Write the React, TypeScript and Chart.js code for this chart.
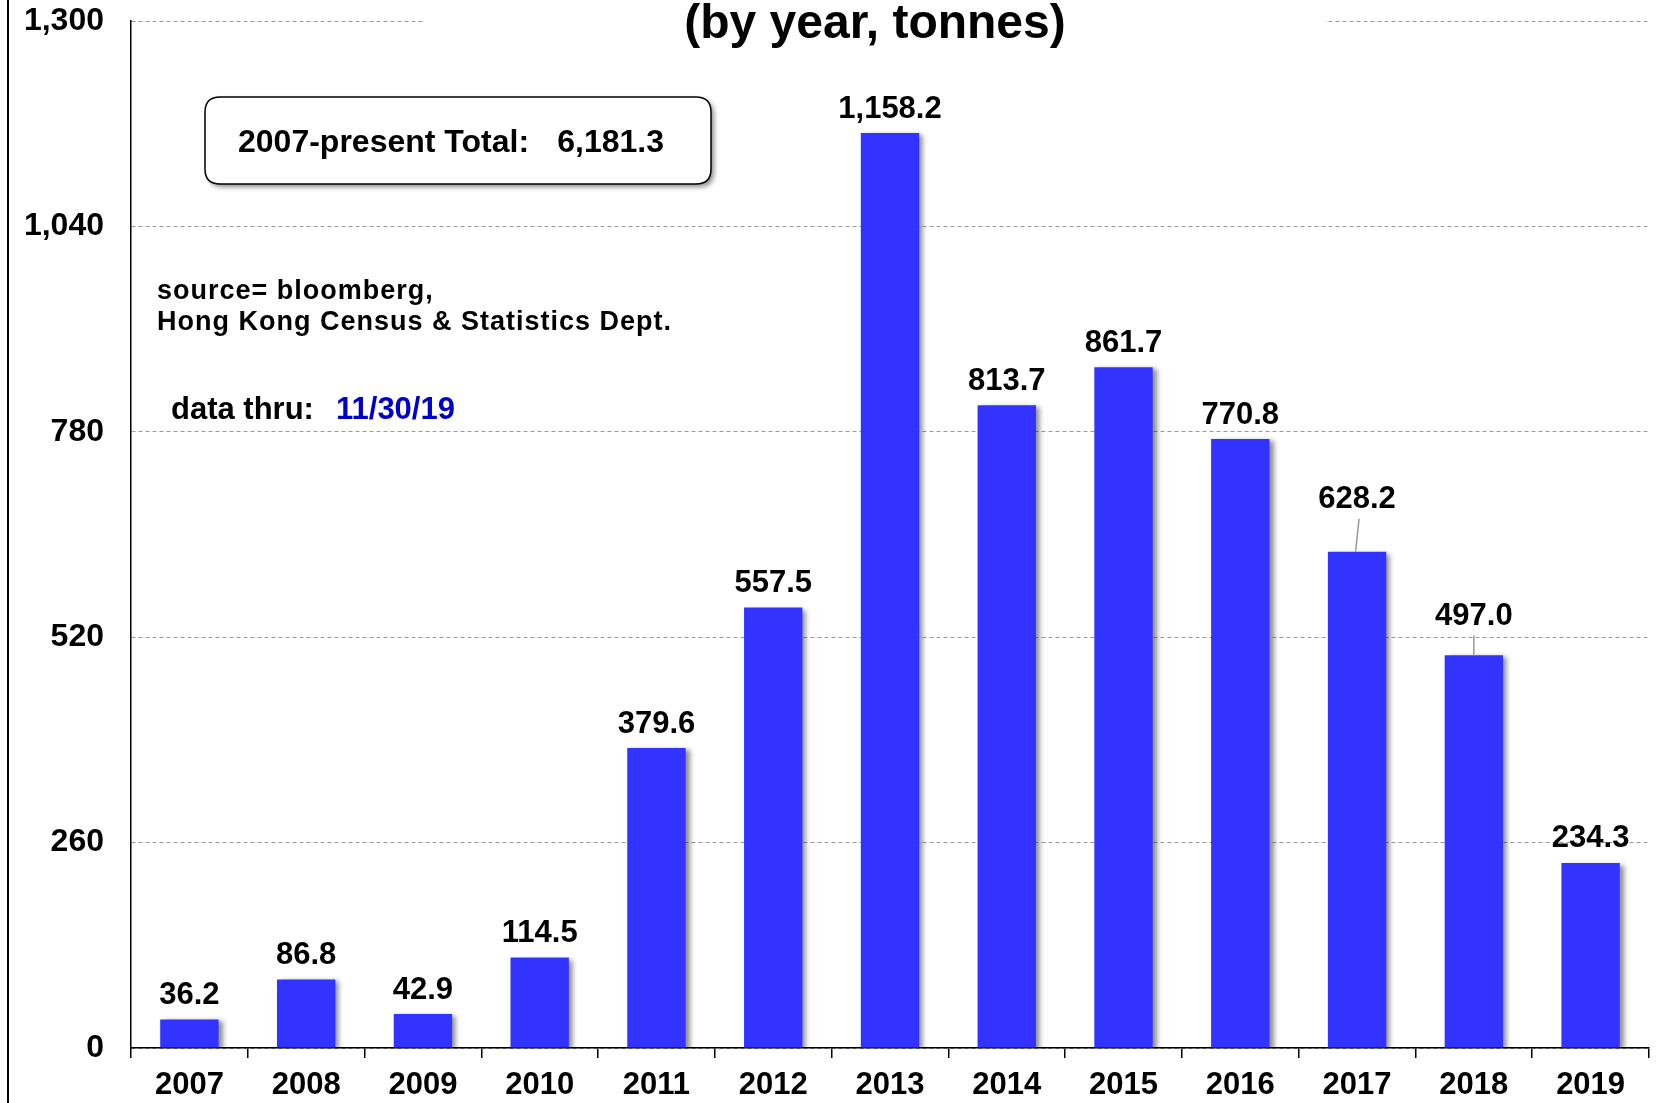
import React, { useEffect, useRef } from 'react';
import { Chart, registerables } from 'chart.js';

Chart.register(...registerables);

const years = ['2007', '2008', '2009', '2010', '2011', '2012', '2013', '2014', '2015', '2016', '2017', '2018', '2019'];
const tonnes = [36.2, 86.8, 42.9, 114.5, 379.6, 557.5, 1158.2, 813.7, 861.7, 770.8, 628.2, 497.0, 234.3];
const valueLabels = ['36.2', '86.8', '42.9', '114.5', '379.6', '557.5', '1,158.2', '813.7', '861.7', '770.8', '628.2', '497.0', '234.3'];
const yMin = 0;
const yMax = 1300;
const yStep = 260;
const titleText = '(by year, tonnes)';
const totalLabel = '2007-present Total:';
const totalValue = '6,181.3';
const sourceLines = ['source= bloomberg,', 'Hong Kong Census & Statistics Dept.'];
const dataThruLabel = 'data thru:';
const dataThruDate = '11/30/19';

const FONT = "'Liberation Sans', Arial, Helvetica, sans-serif";
const BAR_BLUE = '#3333FF';

function roundRect(ctx: CanvasRenderingContext2D, x: number, y: number, w: number, h: number, r: number) {
  ctx.beginPath();
  ctx.moveTo(x + r, y);
  ctx.lineTo(x + w - r, y);
  ctx.quadraticCurveTo(x + w, y, x + w, y + r);
  ctx.lineTo(x + w, y + h - r);
  ctx.quadraticCurveTo(x + w, y + h, x + w - r, y + h);
  ctx.lineTo(x + r, y + h);
  ctx.quadraticCurveTo(x, y + h, x, y + h - r);
  ctx.lineTo(x, y + r);
  ctx.quadraticCurveTo(x, y, x + r, y);
  ctx.closePath();
}

const shadowPlugin = {
  id: 'barShadow',
  beforeDatasetsDraw(chart: any) {
    const ctx = chart.ctx;
    ctx.save();
    ctx.shadowColor = 'rgba(0,0,0,0.45)';
    ctx.shadowBlur = 5;
    ctx.shadowOffsetX = 4;
    ctx.shadowOffsetY = 2;
  },
  afterDatasetsDraw(chart: any) {
    chart.ctx.restore();
  },
};

const decorPlugin = {
  id: 'decor',
  afterDraw(chart: any) {
    const ctx: CanvasRenderingContext2D = chart.ctx;
    ctx.save();

    // left frame line
    ctx.strokeStyle = '#000';
    ctx.lineWidth = 2;
    ctx.beginPath();
    ctx.moveTo(8, 0);
    ctx.lineTo(8, 1103);
    ctx.stroke();

    // title with white backing
    ctx.fillStyle = '#fff';
    ctx.fillRect(425, 0, 900, 48);
    ctx.fillStyle = '#000';
    ctx.font = `bold 48px ${FONT}`;
    ctx.textAlign = 'center';
    ctx.textBaseline = 'alphabetic';
    ctx.fillText(titleText, 875, 38);

    // total box
    ctx.save();
    ctx.shadowColor = 'rgba(0,0,0,0.45)';
    ctx.shadowBlur = 5;
    ctx.shadowOffsetX = 3;
    ctx.shadowOffsetY = 3;
    roundRect(ctx, 205, 97, 506, 87, 15);
    ctx.fillStyle = '#fff';
    ctx.fill();
    ctx.restore();
    roundRect(ctx, 205, 97, 506, 87, 15);
    ctx.strokeStyle = '#000';
    ctx.lineWidth = 1.5;
    ctx.stroke();
    ctx.fillStyle = '#000';
    ctx.font = `bold 32px ${FONT}`;
    ctx.textBaseline = 'middle';
    ctx.textAlign = 'left';
    ctx.fillText(totalLabel, 238, 143);
    ctx.textAlign = 'right';
    ctx.fillText(totalValue, 664, 143);

    // source text
    ctx.textAlign = 'left';
    ctx.font = `bold 27px ${FONT}`;
    (ctx as any).letterSpacing = '1px';
    ctx.fillText(sourceLines[0], 157, 292);
    ctx.fillText(sourceLines[1], 157, 323);
    (ctx as any).letterSpacing = '0px';

    // data thru
    ctx.font = `bold 31px ${FONT}`;
    ctx.fillText(dataThruLabel, 171, 410);
    ctx.fillStyle = '#0000CC';
    ctx.fillText(dataThruDate, 336, 410);

    // value labels
    const meta = chart.getDatasetMeta(0);
    ctx.fillStyle = '#000';
    ctx.font = `bold 31px ${FONT}`;
    ctx.textAlign = 'center';
    ctx.textBaseline = 'middle';
    meta.data.forEach((bar: any, i: number) => {
      let lift = 24;
      if (i === 10) lift = 52;
      if (i === 11) lift = 39;
      const cy = bar.y - lift;
      ctx.fillText(valueLabels[i], bar.x, cy);
      if (lift > 24) {
        ctx.strokeStyle = '#999';
        ctx.lineWidth = 1.5;
        ctx.beginPath();
        const topDx = i === 10 ? 2 : 0;
        const botDx = i === 10 ? -1.5 : 0;
        ctx.moveTo(bar.x + topDx, cy + 19);
        ctx.lineTo(bar.x + botDx, bar.y);
        ctx.stroke();
      }
    });

    ctx.restore();
  },
};

export default function App() {
  const canvasRef = useRef<HTMLCanvasElement>(null);

  useEffect(() => {
    if (!canvasRef.current) return;
    const chart = new Chart(canvasRef.current, {
      type: 'bar',
      data: {
        labels: years,
        datasets: [
          {
            data: tonnes,
            backgroundColor: BAR_BLUE,
            borderWidth: 0,
            barPercentage: 0.5,
            categoryPercentage: 1,
          },
        ],
      },
      options: {
        responsive: false,
        animation: false,
        events: [],
        layout: { padding: { left: 0, right: 14, top: 21, bottom: 0 } },
        plugins: {
          legend: { display: false },
          title: { display: false },
          tooltip: { enabled: false },
        },
        scales: {
          x: {
            offset: true,
            afterFit: (scale: any) => {
              scale.height = 55;
              scale.paddingLeft = 0;
              scale.paddingRight = 0;
            },
            grid: {
              display: true,
              drawOnChartArea: false,
              drawTicks: true,
              tickLength: 10,
              color: '#000',
              lineWidth: 1.5,
              offset: true,
            },
            border: { display: true, color: '#000', width: 1.5 },
            ticks: {
              color: '#000',
              font: { family: FONT, size: 31, weight: 'bold' },
              padding: 9,
              maxRotation: 0,
              autoSkip: false,
            },
          },
          y: {
            min: yMin,
            max: yMax,
            afterFit: (scale: any) => {
              scale.width = 131;
              scale.paddingTop = 0;
              scale.paddingBottom = 0;
            },
            grid: {
              color: '#999',
              lineWidth: 1,
              drawTicks: false,
            },
            border: { display: true, color: '#000', width: 1.5, dash: [4, 3] },
            ticks: {
              stepSize: yStep,
              color: '#000',
              font: { family: FONT, size: 32, weight: 'bold' },
              padding: 27,
              callback: (v: any) => Number(v).toLocaleString('en-US'),
            },
          },
        },
      } as any,
      plugins: [shadowPlugin, decorPlugin],
    });
    return () => chart.destroy();
  }, []);

  return (
    <div style={{ position: 'absolute', left: 0, top: 0, width: 1663, height: 1103, background: '#fff' }}>
      <canvas ref={canvasRef} width={1663} height={1103} style={{ display: 'block' }} />
    </div>
  );
}
